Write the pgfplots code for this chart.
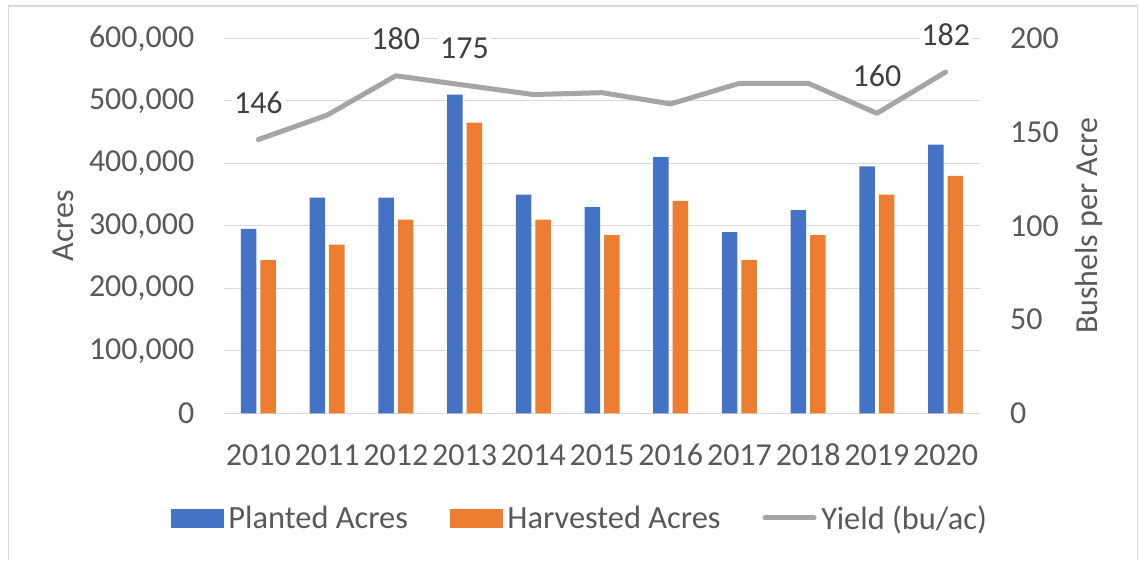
\documentclass[border=0pt]{standalone}
\usepackage{fontspec}
\setmainfont{Carlito}
\usepackage{pgfplots}
\usepackage{pgfplotstable}
\pgfplotsset{compat=1.18}
\definecolor{cBlue}{HTML}{4472C4}
\definecolor{cOrange}{HTML}{ED7D31}
\definecolor{cGray}{HTML}{A5A5A5}
\definecolor{cText}{HTML}{595959}
\definecolor{cLabel}{HTML}{404040}
\definecolor{cGrid}{HTML}{D9D9D9}

\pgfplotstableread{
x planted harvested yield
0 295000 245000 146
1 345000 270000 159
2 345000 310000 180
3 510000 465000 175
4 350000 310000 170
5 330000 285000 171
6 410000 340000 165
7 290000 245000 176
8 325000 285000 176
9 395000 350000 160
10 430000 380000 182
}\data

\pgfplotstableread{
x yield
0 146
2 180
3 175
9 160
10 182
}\labels

\newcommand{\cf}{\fontsize{32}{38}\selectfont}
\newcommand{\lf}{\fontsize{32.4}{38}\selectfont}

\pgfplotsset{
  common/.style={
    scale only axis, width=756pt, height=375pt,
    at={(224pt,146.7pt)}, anchor=south west,
    xmin=-0.5, xmax=10.5,
    axis line style={draw=none},
    major tick length=0pt, tick style={draw=none},
    ticklabel style={text=cText, font=\cf},
    label style={text=cText, font=\cf},
    /pgf/number format/assume math mode=true,
  }
}

\begin{document}
\begin{tikzpicture}[x=1pt,y=1pt,font=\cf]
\path[use as bounding box] (0,0) rectangle (1139,560);
\draw[cGrid, line width=1.2pt] (8.5,0) -- (8.5,554) -- (1137.5,554) -- (1137.5,0);

\begin{axis}[common,
  ybar=4pt, bar width=15.5pt,
  ymin=0, ymax=600000,
  ytick={0,100000,200000,300000,400000,500000,600000},
  scaled y ticks=false,
  yticklabel style={/pgf/number format/fixed, /pgf/number format/1000 sep={,}, anchor=east, inner sep=0pt, xshift=-29.5pt},
  ymajorgrids, grid style={cGrid, line width=1.3pt},
  xtick={0,1,2,3,4,5,6,7,8,9,10},
  xticklabels={2010,2011,2012,2013,2014,2015,2016,2017,2018,2019,2020},
  xticklabel style={anchor=base, inner sep=0pt, yshift=-52pt},
  ylabel={Acres},
  ylabel style={at={(axis description cs:-0.213,0.5)}, anchor=center},
]
\addplot[fill=cBlue, draw=none] table[x=x,y=planted]{\data};
\addplot[fill=cOrange, draw=none] table[x=x,y=harvested]{\data};
\end{axis}

\begin{axis}[common,
  ymin=0, ymax=200,
  ytick={0,50,100,150,200},
  axis y line*=right, axis x line=none,
  yticklabel style={anchor=west, inner sep=0pt, xshift=30pt},
  ylabel={Bushels per Acre},
  ylabel style={at={(axis description cs:1.144,0.5)}, anchor=center, rotate=0},
  legend style={at={(axis description cs:0.4729,-0.279)}, anchor=center,
    draw=none, fill=none, legend columns=3, font=\lf, text=cText,
    nodes={inner xsep=5pt, inner ysep=0pt},
    /tikz/every even column/.append style={column sep=37pt}},
  legend cell align=left,
]
\addlegendimage{legend image code/.code={\fill[cBlue] (0pt,-9pt) rectangle (52pt,9pt);}}
\addlegendentry{Planted Acres}
\addlegendimage{legend image code/.code={\fill[cOrange] (0pt,-9pt) rectangle (52pt,9pt);}}
\addlegendentry{Harvested Acres}
\addplot[cGray, line width=5pt, line cap=round, line join=round,
  legend image code/.code={\draw[cGray, line width=5pt, line cap=round] (2.5pt,0pt) -- (51.5pt,0pt);}]
  table[x=x,y=yield]{\data};
\addlegendentry{Yield (bu/ac)}
\addplot[draw=none, forget plot, nodes near coords, point meta=explicit,
  every node near coord/.append style={anchor=center, yshift=37pt, fill=white, inner sep=2pt, text=cLabel, font=\cf}]
  table[x=x,y=yield,meta=yield]{\labels};
\end{axis}
\end{tikzpicture}
\end{document}
